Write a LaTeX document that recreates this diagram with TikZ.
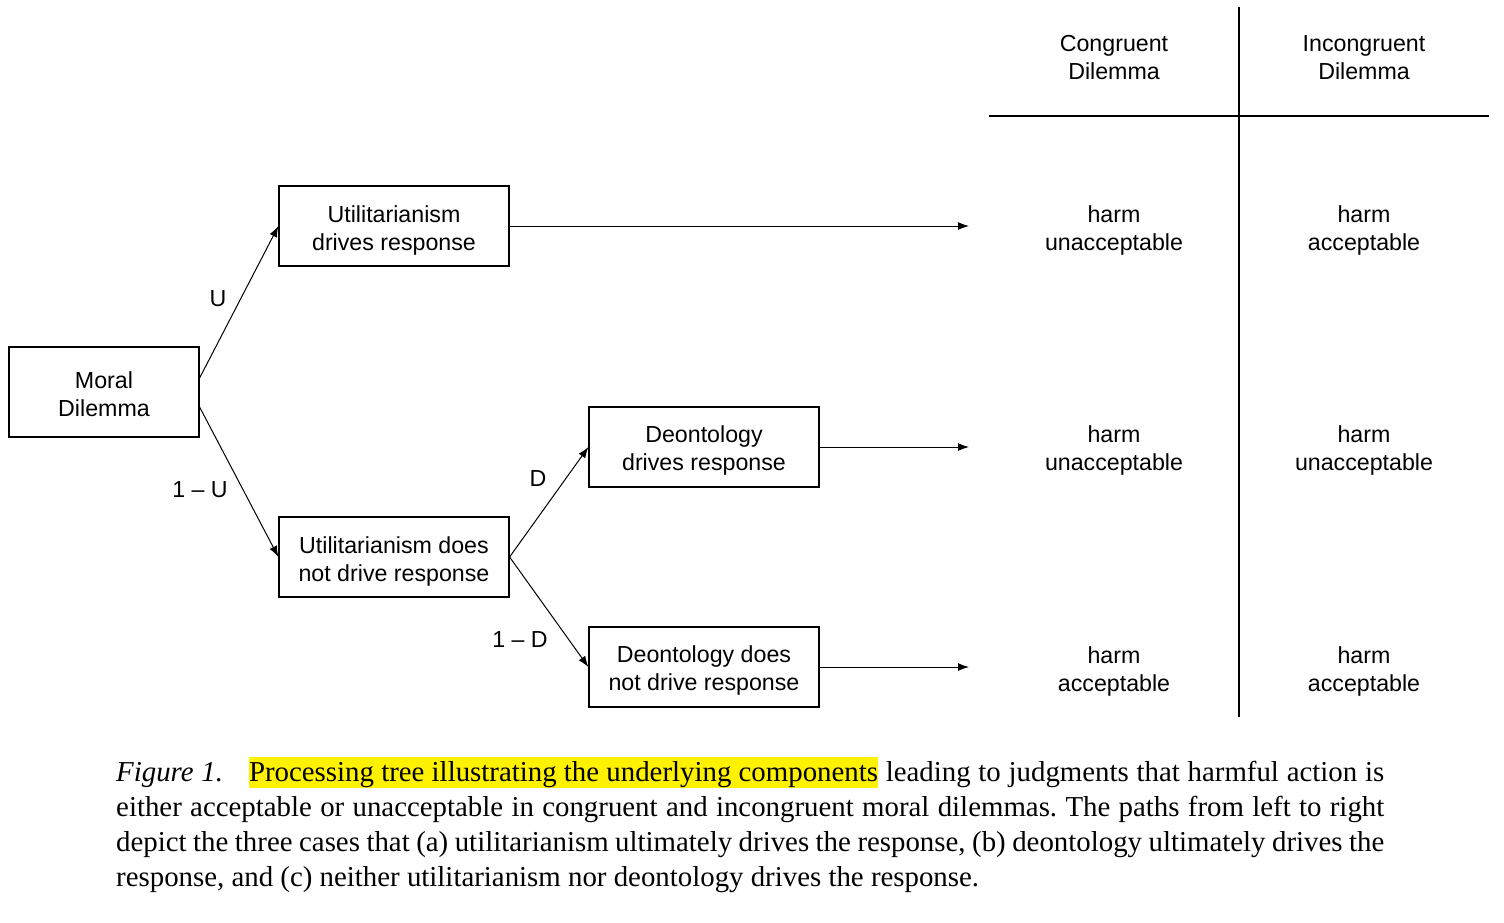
\documentclass[tikz,border=0pt]{standalone}
\usepackage{fontspec}
\setmainfont{Liberation Serif}
\newfontfamily\diagfont{Liberation Sans}
\usetikzlibrary{arrows.meta,calc}
\begin{document}
\begin{tikzpicture}[x=1pt,y=-1pt,
  lbl/.style={align=center,inner sep=0pt,font=\diagfont\fontsize{23.2}{28}\selectfont},
  box/.style={draw,line width=1.2pt,minimum width=230pt,minimum height=80pt,inner sep=0pt},
  arr/.style={line width=1pt,-{Latex[length=11pt,width=8pt]}},
  rule/.style={line width=1.2pt}]
\useasboundingbox (0,0) rectangle (1504,922);
\node[box,minimum width=190pt,minimum height=90pt,label={[lbl,yshift=-2pt]center:{Moral\\Dilemma}}] (md) at (104,392) {};
\node[box,label={[lbl,yshift=-4pt]center:{Utilitarianism\\drives response}}] (ut) at (394,226) {};
\node[box,label={[lbl,yshift=-4pt]center:{Utilitarianism does\\not drive response}}] (un) at (394,557) {};
\node[box,label={[lbl,yshift=-3pt]center:{Deontology\\drives response}}] (dd) at (704,447) {};
\node[box,label={[lbl,yshift=-3pt]center:{Deontology does\\not drive response}}] (dn) at (704,667) {};
\coordinate (e1) at (969,226);
\coordinate (e2) at (969,447);
\coordinate (e3) at (969,667);
\draw[arr] ($(md.east)+(0,-14)$) -- (ut.west);
\draw[arr] ($(md.east)+(0,15)$) -- (un.west);
\draw[arr] (un.east) -- (dd.west);
\draw[arr] (un.east) -- (dn.west);
\draw[arr] (ut.east) -- (e1);
\draw[arr] (dd.east) -- (e2);
\draw[arr] (dn.east) -- (e3);
\node[lbl] (lu) at (218,299) {U};
\node[lbl] (lnu) at (200,490) {1 – U};
\node[lbl] (ld) at (538,479) {D};
\node[lbl] (lnd) at (520,640) {1 – D};
\coordinate (vt) at (1239,7);
\coordinate (vb) at (1239,717);
\coordinate (hl) at (989,116);
\coordinate (hr) at (1489,116);
\draw[rule] (vt) -- (vb);
\draw[rule] (hl) -- (hr);
\node[lbl] (h1) at (1114,58) {Congruent\\Dilemma};
\node[lbl] (h2) at (1364,58) {Incongruent\\Dilemma};
\node[lbl] (c11) at (1114,230) {harm\\unacceptable};
\node[lbl] (c12) at (1364,230) {harm\\acceptable};
\node[lbl] (c21) at (1114,450) {harm\\unacceptable};
\node[lbl] (c22) at (1364,450) {harm\\unacceptable};
\node[lbl] (c31) at (1114,671) {harm\\acceptable};
\node[lbl] (c32) at (1364,671) {harm\\acceptable};
\node[anchor=north west,inner sep=0pt,text width=1268pt,align=justify,
  font=\fontsize{28.85}{35}\selectfont] (cap) at (116,757)
  {\hyphenpenalty=10000\frenchspacing\textit{Figure 1.}\hspace{26pt}{\setlength{\fboxsep}{0pt}\colorbox{yellow}{\rule[-7pt]{0pt}{31pt}Processing tree illustrating the underlying components}} leading to judgments that harmful action is\linebreak either acceptable or unacceptable in congruent and incongruent moral dilemmas. The paths from left to right\linebreak depict the three cases that (a) utilitarianism ultimately drives the response, (b) deontology ultimately drives the\linebreak response, and (c) neither utilitarianism nor deontology drives the response.};
\end{tikzpicture}
\end{document}
